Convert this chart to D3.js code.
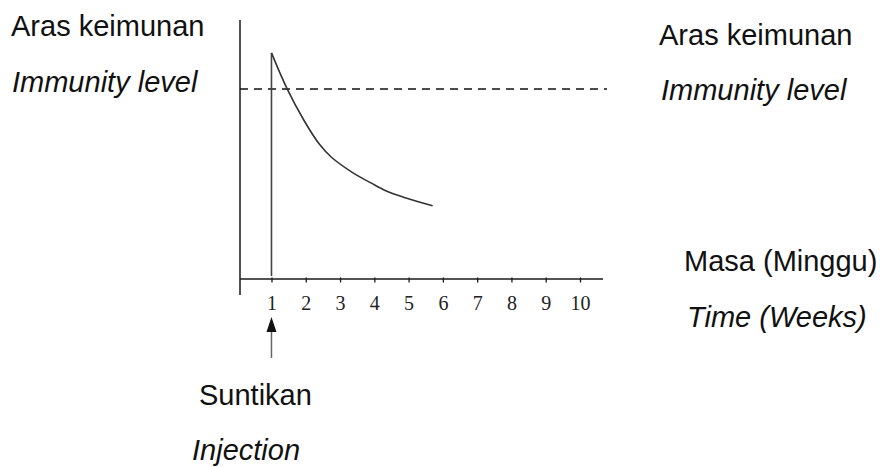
<!DOCTYPE html>
<html>
<head>
<meta charset="utf-8">
<script src="https://cdn.jsdelivr.net/npm/d3@7"></script>
<style>
  html, body { margin: 0; padding: 0; background: #fff; }
  svg { display: block; }
  .lbl { font-family: "Liberation Sans", Arial, sans-serif; font-size: 29px; fill: #111; }
  .it { font-style: italic; }
  .tick text { font-family: "Liberation Serif", "Times New Roman", serif; font-size: 20px; fill: #222; }
</style>
</head>
<body>
<svg id="chart" width="880" height="467"></svg>
<script>
// Data
const weekTicks = [1, 2, 3, 4, 5, 6, 7, 8, 9, 10];
const curveWeeks = [1, 1.45, 1.95, 2.4, 2.75, 3.4, 3.9, 4.35, 4.85, 5.7];
const curveLevels = [87.3, 73.6, 61.2, 52, 47, 40.8, 37.1, 34, 31.6, 28.3];
const immunityThreshold = 73.4;
const injectionWeek = 1;
const labelsLeft = ["Aras keimunan", "Immunity level"];
const labelsRight = ["Aras keimunan", "Immunity level"];
const labelsTime = ["Masa (Minggu)", "Time (Weeks)"];
const labelsInjection = ["Suntikan", "Injection"];

const svg = d3.select("#chart");
const x = d3.scaleLinear().domain([0, 10]).range([237.2, 580]);
const y = d3.scaleLinear().domain([0, 100]).range([279, 20]);

const axisX0 = 240, axisX1 = 603;
const ink = "#1a1a1a";

// y axis line
svg.append("line")
  .attr("x1", axisX0).attr("x2", axisX0)
  .attr("y1", y(100)).attr("y2", y(0) + 16)
  .attr("stroke", ink).attr("stroke-width", 1.5);

// x axis
const xAxis = d3.axisBottom(x).tickValues(weekTicks).tickSize(5).tickPadding(13).tickFormat(d3.format("d"));
const gx = svg.append("g").attr("transform", `translate(0,${y(0) - 1.5})`).call(xAxis);
gx.select(".domain").remove();
gx.selectAll(".tick line").attr("stroke", ink).attr("stroke-width", 1.3);
svg.append("line")
  .attr("x1", axisX0).attr("x2", axisX1)
  .attr("y1", y(0)).attr("y2", y(0))
  .attr("stroke", ink).attr("stroke-width", 1.5);

// dashed immunity threshold
svg.append("line")
  .attr("x1", axisX0).attr("x2", 607)
  .attr("y1", y(immunityThreshold)).attr("y2", y(immunityThreshold))
  .attr("stroke", "#111").attr("stroke-width", 1.5)
  .attr("stroke-dasharray", "8,6");

// vertical injection line
svg.append("line")
  .attr("x1", x(injectionWeek)).attr("x2", x(injectionWeek))
  .attr("y1", y(0) - 3).attr("y2", y(curveLevels[0]))
  .attr("stroke", "#444").attr("stroke-width", 1.6);

// decay curve
const line = d3.line().x((d, i) => x(curveWeeks[i])).y(d => y(d)).curve(d3.curveCatmullRom.alpha(0.5));
svg.append("path")
  .attr("d", line(curveLevels))
  .attr("fill", "none").attr("stroke", "#333").attr("stroke-width", 1.6);

// injection arrow
const ax = x(injectionWeek);
svg.append("line")
  .attr("x1", ax).attr("x2", ax).attr("y1", 330).attr("y2", 358)
  .attr("stroke", "#666").attr("stroke-width", 1.5);
svg.append("path")
  .attr("d", `M${ax},317 L${ax - 5},332 L${ax + 5},332 Z`)
  .attr("fill", "#111");

// texts
function addLabel(txt, xx, yy, italic) {
  svg.append("text").attr("class", "lbl" + (italic ? " it" : ""))
    .attr("x", xx).attr("y", yy).text(txt);
}
addLabel(labelsLeft[0], 11, 36, false);
addLabel(labelsLeft[1], 12, 92, true);
addLabel(labelsRight[0], 659, 45, false);
addLabel(labelsRight[1], 661, 100, true);
addLabel(labelsTime[0], 684, 271, false);
addLabel(labelsTime[1], 687, 327, true);
addLabel(labelsInjection[0], 199, 405, false);
addLabel(labelsInjection[1], 192, 460, true);
</script>
</body>
</html>
